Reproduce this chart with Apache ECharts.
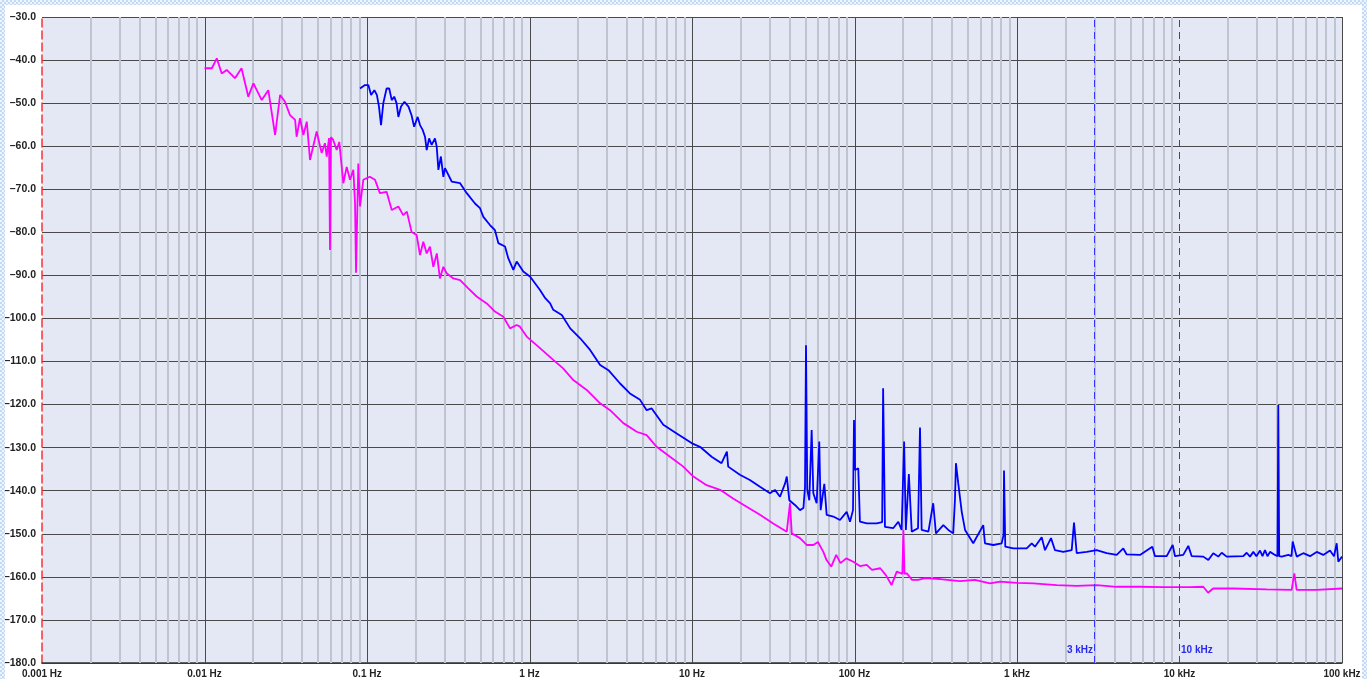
<!DOCTYPE html>
<html>
<head>
<meta charset="utf-8">
<script src="https://cdn.jsdelivr.net/npm/echarts@6/dist/echarts.min.js"></script>
<style>
html,body{margin:0;padding:0;width:1367px;height:679px;overflow:hidden;
background:repeating-conic-gradient(#c4daf4 0% 25%, #eef4fc 0% 50%) 0 0/4px 4px;}
#c{position:absolute;left:5px;top:5px;width:1357px;height:674px;background:#fff;}
</style>
</head>
<body>
<div id="c"></div>
<script>
// ---- data (frequency in Hz, level in dB) ----
const xTickLabels = ['0.001 Hz','0.01 Hz','0.1 Hz','1 Hz','10 Hz','100 Hz','1 kHz','10 kHz','100 kHz'];
const decades = [0.001,0.01,0.1,1,10,100,1000,10000,100000];
const markerFreqs = [3000, 10000];
const markerLabels = ['3 kHz', '10 kHz'];

const magentaPoints = [
[0.0100,-41.9],[0.0111,-41.9],[0.0119,-39.6],[0.01276,-43.1],[0.0137,-42.3],[0.0154,-44.2],[0.0169,-41.9],[0.0186,-48.5],[0.0200,-45.4],[0.0225,-49.3],
[0.0247,-47.0],[0.0272,-57.4],[0.0292,-48.1],[0.0313,-49.7],[0.0336,-52.8],[0.0361,-53.9],[0.0369,-57.8],[0.0387,-53.5],[0.0406,-57.4],[0.0426,-54.3],
[0.0446,-63.2],[0.0490,-56.6],[0.0526,-61.6],[0.0551,-59.3],[0.0565,-62.4],[0.0584,-58.1],[0.0592,-84.1],[0.0600,-57.9],[0.0620,-58.6],[0.0651,-60.9],
[0.0675,-59.0],[0.0715,-68.6],[0.0750,-64.8],[0.0786,-67.8],[0.0824,-65.5],[0.0844,-73.3],[0.0856,-89.4],[0.0884,-64.0],[0.0906,-74.0],[0.0949,-67.8],
[0.104,-67.1],[0.112,-67.8],[0.120,-70.9],[0.132,-70.6],[0.142,-74.8],[0.156,-74.0],[0.167,-76.0],[0.176,-75.2],[0.188,-79.9],[0.202,-80.6],
[0.212,-85.3],[0.222,-82.2],[0.233,-84.9],[0.244,-83.3],[0.256,-88.0],[0.269,-84.9],[0.281,-90.7],[0.295,-88.0],[0.309,-89.5],[0.340,-90.7],
[0.374,-91.1],[0.420,-93.0],[0.473,-94.9],[0.545,-96.5],[0.613,-98.4],[0.690,-99.6],[0.759,-102.3],[0.834,-101.5],[0.874,-101.9],[0.961,-104.2],
[1.16,-106.9],[1.40,-109.6],[1.61,-111.6],[1.86,-114.3],[2.25,-116.6],[2.72,-119.7],[3.13,-121.3],[3.78,-124.3],[4.57,-126.3],[5.26,-127.1],
[6.06,-129.8],[7.32,-132.1],[8.84,-134.4],
[10.2,-136.7],[12.3,-138.7],[14.9,-139.8],[17.9,-141.8],[21.7,-143.7],[26.2,-145.6],[31.6,-147.6],[38.3,-149.5],[40.1,-142.9],[41.1,-149.9],
[46.2,-151.0],[50.8,-152.6],[55.8,-152.6],[59.6,-151.9],[64.3,-154.2],[67.3,-156.1],[71.9,-157.6],[77.2,-154.9],[82.0,-156.8],[88.9,-155.7],[98.3,-156.5],
[108,-157.5],[119,-157.2],[128,-158.4],[144,-158.0],[156,-159.6],[169,-161.9],[182,-158.8],[197,-159.3],[200,-149.1],[203,-159.3],
[210,-159.2],[226,-160.7],[247,-160.7],[272,-160.3],[336,-160.5],[446,-161.0],[551,-160.7],[682,-161.5],[786,-161.1],
[1000,-161.4],[1260,-161.5],[1755,-161.9],[2330,-162.1],[3093,-161.9],[4107,-162.3],[5713,-162.3],[7950,-162.4],
[11600,-162.4],[14000,-162.3],[15000,-163.7],[16100,-162.7],[21400,-162.7],[34400,-162.9],[49000,-163.0],[50900,-159.2],[52600,-163.0],[69900,-163.0],[100000,-162.7]
];

const bluePoints = [
[0.0906,-46.6],[0.0972,-45.8],[0.1019,-45.8],[0.106,-48.1],[0.111,-47.0],[0.115,-48.1],[0.1185,-50.8],[0.122,-55.1],[0.126,-50.0],[0.132,-46.6],
[0.137,-46.6],[0.142,-49.3],[0.147,-48.5],[0.152,-50.0],[0.156,-53.2],[0.162,-50.8],[0.170,-49.7],[0.180,-50.8],[0.188,-52.8],[0.195,-55.5],
[0.205,-53.2],[0.212,-55.1],[0.220,-56.2],[0.2275,-57.8],[0.233,-60.9],[0.241,-58.2],[0.250,-59.7],[0.262,-58.2],[0.2685,-60.1],[0.275,-65.5],
[0.285,-62.4],[0.295,-67.1],[0.302,-65.1],[0.332,-68.2],[0.374,-68.6],[0.411,-70.9],[0.462,-73.3],[0.496,-74.4],[0.520,-76.4],[0.571,-78.3],
[0.613,-79.5],[0.643,-82.5],[0.707,-83.3],[0.740,-86.0],[0.795,-88.7],[0.834,-86.8],[0.916,-89.1],
[1.01,-90.3],[1.16,-93.4],[1.25,-95.3],[1.34,-96.5],[1.40,-98.0],[1.58,-99.2],[1.78,-102.3],[2.05,-104.6],[2.36,-107.3],[2.72,-110.8],
[3.06,-112.0],[3.61,-115.1],[4.15,-117.4],[4.79,-118.9],[5.26,-121.3],[5.65,-120.9],[6.66,-124.7],[8.05,-126.7],[10.0,-129.0],
[11.2,-129.8],[13.2,-132.1],[15.2,-133.6],[16.4,-130.9],[16.7,-134.4],[19.7,-136.3],[22.7,-137.5],[26.2,-139.1],[30.2,-140.6],[32.4,-139.8],
[34.8,-141.4],[37.4,-138.3],[38.3,-136.7],[39.7,-142.2],[43.0,-143.3],[46.2,-144.5],[48.5,-144.0],[49.6,-139.1],[50.3,-106.2],[51.2,-139.8],
[52.7,-142.2],[54.5,-125.9],[55.8,-140.6],[58.5,-142.9],[60.7,-128.6],[61.9,-144.5],[65.2,-138.4],[67.4,-145.6],[74.0,-146.0],[81.4,-146.8],
[89.5,-144.9],[93.8,-147.2],[97.9,-144.5],[99.3,-123.6],[100.7,-135.2],[102,-135.2],[105.5,-134.8],[108,-147.2],[119,-147.6],[137,-147.6],
[148,-147.3],[150,-116.2],[154,-148.4],[173,-148.7],[186,-147.2],[195,-149.1],[202,-128.6],[207,-149.1],[216,-136.1],[225,-149.5],
[246,-148.7],[253,-125.3],[259,-149.1],[285,-149.5],[305,-142.9],[317,-149.9],[352,-148.0],[378,-149.1],[405,-149.9],[415,-142.2],
[421,-133.6],[435,-138.3],[457,-144.9],[479,-149.1],[538,-152.2],[620,-148.0],[635,-152.2],[715,-152.6],[805,-152.2],[826,-150.3],
[832,-135.3],[847,-153.0],[949,-153.4],
[1147,-153.4],[1232,-152.2],[1290,-153.0],[1419,-150.8],[1487,-153.8],[1619,-151.0],[1713,-153.8],[1927,-154.2],[2171,-153.8],[2243,-147.4],
[2330,-154.5],[2685,-154.2],[3093,-153.8],[3565,-154.5],[4107,-154.9],[4510,-153.4],[4732,-154.8],[5713,-154.9],[6804,-153.0],[7066,-155.2],
[8340,-155.2],[9082,-152.6],[9383,-155.2],
[10550,-154.9],[11330,-152.8],[11890,-155.2],[14010,-155.3],[15040,-156.1],[16140,-154.5],[17330,-155.3],[18190,-154.4],[19510,-155.3],[24700,-155.2],
[25910,-154.4],[27160,-155.3],[28460,-154.2],[29750,-155.2],[31290,-153.9],[32420,-155.2],[33580,-153.8],[34790,-155.2],[36060,-154.2],[38700,-154.9],
[40090,-155.2],[40550,-120.1],[41070,-155.2],[42560,-155.3],[46730,-154.9],[48890,-155.2],[49730,-151.8],[52630,-155.3],[57780,-154.5],[63540,-155.2],
[69890,-154.2],[76730,-154.9],[84370,-153.9],[89290,-155.2],[92770,-152.2],[94890,-156.5],[100000,-155.3]
];

// ---- grid-line values (major decades, minor 2..9 within each decade) ----
const minorMultipliers = [2,3,4,5,6,7,8,9];
const minorValues = [];
decades.slice(0, decades.length - 1).forEach(d => minorMultipliers.forEach(m => minorValues.push(+(d * m).toPrecision(3))));
const majorValues = decades.filter(d => d !== 0.001 && markerFreqs.indexOf(d) < 0);

const chart = echarts.init(document.getElementById('c'), null, {renderer: 'canvas'});
const FONT = '"Liberation Sans", Arial, sans-serif';

function vLineSeries(name, values, color, width, z) {
  return {
    name: name, type: 'custom', z: z, silent: true, clip: false,
    data: values.map(v => [v, 0]),
    encode: {x: 0, y: 1},
    renderItem: (params, api) => {
      const cs = params.coordSys;
      const x = Math.round(api.coord([api.value(0), -100])[0]) + (width % 2 ? 0.5 : 0);
      return {type: 'line', shape: {x1: x, y1: cs.y, x2: x, y2: cs.y + cs.height},
        style: {stroke: color, lineWidth: width}};
    }
  };
}

chart.setOption({
  animation: false,
  backgroundColor: '#ffffff',
  grid: {left: 37, right: 20, top: 12, bottom: 16, show: true, borderWidth: 0,
    backgroundColor: '#e3e8f4', containLabel: false, outerBoundsMode: 'none'},
  xAxis: {
    type: 'log', logBase: 10, min: 0.001, max: 100000,
    axisLine: {show: true, onZero: false, lineStyle: {color: '#333', width: 1.5}},
    axisTick: {show: false},
    splitLine: {show: false},
    minorTick: {show: false},
    axisLabel: {
      show: true, margin: 6, color: '#222', fontWeight: 'bold', fontSize: 10, fontFamily: FONT,
      showMinLabel: true, showMaxLabel: true, hideOverlap: false,
      formatter: v => xTickLabels[Math.round(Math.log10(v)) + 3]
    }
  },
  yAxis: {
    type: 'value', min: -180, max: -30, interval: 10,
    axisLine: {show: true, onZero: false, lineStyle: {color: '#ff3030', width: 1.5, type: [8, 4]}},
    axisTick: {show: false},
    splitLine: {show: true, lineStyle: {color: '#4a4a4a', width: 1}},
    axisLabel: {margin: 6, color: '#222', fontWeight: 'bold', fontSize: 10.5, fontFamily: FONT,
      formatter: v => (v < 0 ? '\u2013' : '') + Math.abs(v).toFixed(1)}
  },
  series: [
    vLineSeries('minor', minorValues, '#bfc4d0', 2, 1),
    vLineSeries('major', majorValues, '#4a4a4a', 1, 1),
    {
      name: 'markers', type: 'line', data: [], z: 3, silent: true,
      markLine: {
        silent: true, symbol: ['none', 'none'], animation: false,
        label: {show: false},
        emphasis: {disabled: true},
        data: markerFreqs.map(v => ({xAxis: v, lineStyle: {color: '#3434ff', width: 1, type: [7, 5]}}))
      },
      markPoint: {
        silent: true, animation: false, symbol: 'circle', symbolSize: 1,
        itemStyle: {color: 'rgba(0,0,0,0)'},
        data: markerFreqs.map((v, i) => ({
          coord: [v, -177],
          label: {show: true, formatter: markerLabels[i], position: i === 0 ? 'left' : 'right', distance: 1,
            color: '#2a2aee', fontWeight: 'bold', fontSize: 10, fontFamily: FONT}
        }))
      }
    },
    {
      name: 'lower', type: 'line', data: magentaPoints, z: 4,
      showSymbol: false, symbol: 'none', smooth: false,
      lineStyle: {color: '#ff00ff', width: 1.8}
    },
    {
      name: 'upper', type: 'line', data: bluePoints, z: 5,
      showSymbol: false, symbol: 'none', smooth: false,
      lineStyle: {color: '#0000ff', width: 1.8}
    }
  ]
});
</script>
</body>
</html>
